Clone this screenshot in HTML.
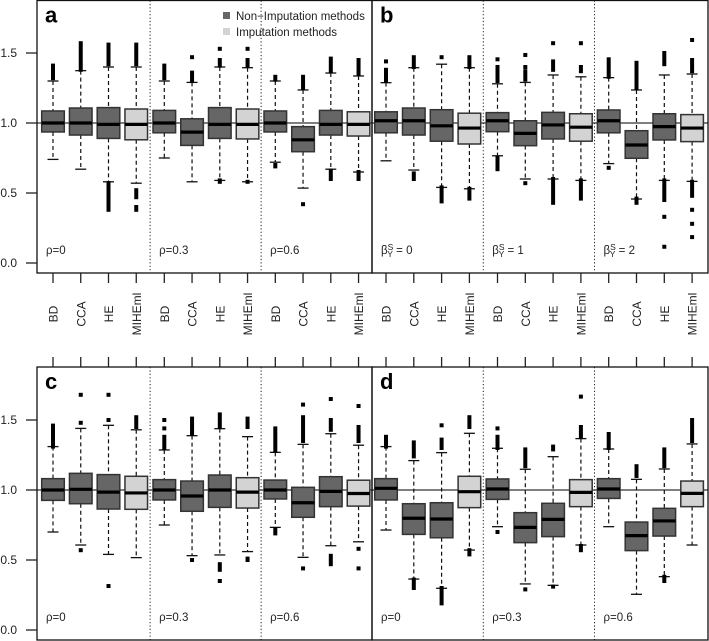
<!DOCTYPE html>
<html><head><meta charset="utf-8"><style>
html,body{margin:0;padding:0;background:#fff;}
svg{display:block;font-family:"Liberation Sans",Arial,sans-serif;}
</style></head><body>
<svg id="chart" width="709" height="641" viewBox="0 0 709 641" xmlns="http://www.w3.org/2000/svg"></svg>
<script>
// Method categories per group
const methods = ["BD","CCA","HE","MIHEml"];
const imputed = [false,false,false,true];
const groupLabelsAC = ["ρ=0","ρ=0.3","ρ=0.6"];
const yTicks = [0.0,0.5,1.0,1.5];
const yTickLabels = ["0.0","0.5","1.0","1.5"];
// each box: [lowWhisker, q1, median, q3, highWhisker]
const panelA = [
 [0.74,0.936,1.0,1.086,1.30],[0.67,0.914,1.0,1.107,1.374],[0.58,0.89,0.99,1.11,1.40],[0.57,0.88,0.99,1.10,1.40],
 [0.75,0.93,1.0,1.09,1.30],[0.58,0.84,0.935,1.03,1.29],[0.59,0.89,0.99,1.11,1.40],[0.58,0.886,0.99,1.10,1.395],
 [0.72,0.936,1.0,1.086,1.30],[0.535,0.795,0.88,0.974,1.236],[0.67,0.914,0.99,1.09,1.357],[0.65,0.907,0.99,1.08,1.336]];
const panelB = [
 [0.73,0.93,1.016,1.08,1.288],[0.664,0.914,1.016,1.107,1.395],[0.54,0.87,0.98,1.095,1.42],[0.53,0.85,0.964,1.07,1.395],
 [0.766,0.938,1.016,1.074,1.28],[0.60,0.838,0.926,1.016,1.29],[0.60,0.886,0.986,1.076,1.343],[0.59,0.87,0.97,1.066,1.33],
 [0.71,0.93,1.016,1.093,1.324],[0.457,0.748,0.843,0.945,1.236],[0.59,0.879,0.974,1.066,1.343],[0.583,0.867,0.964,1.06,1.35]];
const panelC = [
 [0.70,0.926,1.0,1.081,1.31],[0.607,0.902,1.005,1.119,1.44],[0.54,0.864,0.985,1.11,1.462],[0.517,0.862,0.979,1.098,1.43],
 [0.75,0.929,1.0,1.074,1.286],[0.531,0.848,0.957,1.064,1.388],[0.536,0.876,1.0,1.107,1.438],[0.56,0.871,0.985,1.088,1.381],
 [0.733,0.936,1.0,1.071,1.269],[0.519,0.805,0.909,1.019,1.326],[0.602,0.881,0.99,1.095,1.402],[0.63,0.885,0.975,1.07,1.32]];
const panelD = [
 [0.714,0.929,1.012,1.081,1.31],[0.364,0.683,0.798,0.902,1.21],[0.298,0.659,0.793,0.909,1.267],[0.571,0.874,0.988,1.098,1.405],
 [0.738,0.933,1.007,1.079,1.298],[0.329,0.624,0.733,0.838,1.148],[0.319,0.667,0.79,0.905,1.238],[0.607,0.881,0.983,1.074,1.367],
 [0.738,0.94,1.007,1.081,1.293],[0.255,0.567,0.674,0.771,1.076],[0.381,0.671,0.779,0.869,1.15],[0.607,0.881,0.976,1.064,1.329]];
// outlier runs per box: list of [from,to] (equal = single point)
const outA = [
 [[1.32,1.41]],[[1.38,1.57]],[[1.42,1.56],[0.38,0.57]],[[1.42,1.56],[0.47,0.52],[0.38,0.40]],
 [[1.32,1.41]],[[1.30,1.36],[1.47,1.47]],[[1.41,1.45],[1.53,1.53],[0.58,0.59]],[[1.41,1.45],[1.53,1.53],[0.58,0.58]],
 [[1.31,1.33],[0.69,0.70]],[[1.25,1.33],[0.42,0.42]],[[1.37,1.46],[0.60,0.66]],[[1.35,1.45],[0.60,0.65]]];
const outB = [
 [[1.30,1.38],[1.44,1.44]],[[1.40,1.47],[0.60,0.64]],[[1.47,1.47],[0.44,0.54]],[[1.40,1.47],[0.46,0.53]],
 [[1.30,1.40],[1.455,1.455],[0.67,0.75]],[[1.31,1.37],[1.40,1.40],[1.486,1.486],[0.57,0.57]],[[1.38,1.44],[1.57,1.57],[0.43,0.60]],[[1.37,1.40],[1.57,1.57],[0.46,0.59]],
 [[1.33,1.455],[0.68,0.68]],[[1.25,1.43],[0.43,0.46]],[[1.42,1.50],[0.45,0.59],[0.33,0.33],[0.116,0.116]],[[1.37,1.45],[1.593,1.593],[0.48,0.58],[0.38,0.38],[0.28,0.28],[0.185,0.185]]];
const outC = [
 [[1.31,1.46]],[[1.48,1.48],[1.68,1.68],[0.57,0.57]],[[1.50,1.50],[1.68,1.68],[0.314,0.314]],[[1.45,1.52]],
 [[1.30,1.38],[1.44,1.44],[1.50,1.50]],[[1.40,1.51],[0.50,0.50]],[[1.45,1.54],[0.43,0.47],[0.35,0.35]],[[1.45,1.51],[0.50,0.51]],
 [[1.28,1.44],[0.69,0.72]],[[1.35,1.52],[1.61,1.61],[0.44,0.44]],[[1.43,1.50],[1.65,1.65],[0.47,0.53]],[[1.35,1.45],[1.60,1.60],[0.58,0.58],[0.44,0.44]]];
const outD = [
 [[1.31,1.38]],[[1.24,1.34],[0.30,0.36]],[[1.30,1.36],[1.462,1.462],[0.19,0.30]],[[1.45,1.52],[0.54,0.57]],
 [[1.30,1.38],[1.44,1.44],[0.70,0.70]],[[1.17,1.29],[0.29,0.29]],[[1.29,1.31],[0.31,0.31]],[[1.38,1.45],[1.667,1.667],[0.57,0.60]],
 [[1.30,1.40]],[[1.10,1.17]],[[1.17,1.29],[0.35,0.38]],[[1.35,1.50]]];

const NS="http://www.w3.org/2000/svg";
const svg=document.getElementById('chart');
function mk(tag,attrs,parent){const e=document.createElementNS(NS,tag);for(const k in attrs)e.setAttribute(k,attrs[k]);(parent||svg).appendChild(e);return e;}

function drawPanel(p){
  const yS=v=>p.y0 - v*140;
  const xS=i=>p.bx0 + i*p.step + (i>=4?0.3:0) ;
  const g=mk('g',{});
  
  
  // group separators
  [3.5,7.5].forEach(s=>{
    const x=p.bx0+s*p.step;
    const l=mk('line',{x1:x,x2:x,y1:p.top,y2:p.bot,stroke:'#222','stroke-width':1,'stroke-dasharray':'1.2,2.2'},g);
    
    
  });
  // reference line at 1.0
  const rl=mk('line',{x1:p.left,x2:p.right,y1:yS(1),y2:yS(1),stroke:'#333','stroke-width':1.3},g);
  
  
  const bw=22.6;
  p.data.forEach((d,i)=>{
    const x=xS(i);
    const bg=mk('g',{},g);
    
    
    const dash={stroke:'#111','stroke-width':1.2,'stroke-dasharray':'4,3'};
    mk('line',Object.assign({x1:x,x2:x,y1:yS(d[4]),y2:yS(d[3])},dash),bg);
    mk('line',Object.assign({x1:x,x2:x,y1:yS(d[1]),y2:yS(d[0])},dash),bg);
    mk('line',{x1:x-5.5,x2:x+5.5,y1:yS(d[4]),y2:yS(d[4]),stroke:'#111','stroke-width':1.3},bg);
    mk('line',{x1:x-5.5,x2:x+5.5,y1:yS(d[0]),y2:yS(d[0]),stroke:'#111','stroke-width':1.3},bg);
    mk('rect',{x:x-bw/2,y:yS(d[3]),width:bw,height:yS(d[1])-yS(d[3]),fill:imputed[i%4]?'#d3d3d3':'#666',stroke:'#333','stroke-width':1.5},bg);
    mk('line',{x1:x-bw/2,x2:x+bw/2,y1:yS(d[2]),y2:yS(d[2]),stroke:'#000','stroke-width':3.2},bg);
    p.outs[i].forEach(o=>{
      const ya=yS(Math.max(o[0],o[1])), yb=yS(Math.min(o[0],o[1]));
      mk('rect',{x:x-2,y:ya-2,width:4,height:(yb-ya)+4,fill:'#000'},bg);
    });
  });
  // frame
  const fr=mk('rect',{x:p.left,y:p.top,width:p.right-p.left,height:p.bot-p.top,fill:'none',stroke:'#111','stroke-width':1.3},g);
  
  
  const lt=mk('text',{x:p.left+8,y:p.top+22,'font-size':22,'font-weight':'bold',fill:'#000'},g);
  lt.textContent=p.letter;
  
  
  // group labels
  p.glabels.forEach((gl,k)=>{
    const x=(k===0?p.left:p.bx0+(k*4-0.5)*p.step)+9;
    const t=mk('text',{x:x,y:p.bot-19,'font-size':11.5,fill:'#222'},g);
    if(p.beta){ t.innerHTML='β<tspan dy="-4" font-size="8.5">S</tspan><tspan dx="-6" dy="7" font-size="8.5">Y</tspan><tspan dy="-3"> = '+gl+'</tspan>'; }
    else t.textContent=gl;
    
    
  });
  // x ticks
  for(let i=0;i<12;i++){
    const x=xS(i);
    const tk=p.tickUp? mk('line',{x1:x,x2:x,y1:p.top-10,y2:p.top,stroke:'#222','stroke-width':1.3},g)
                     : mk('line',{x1:x,x2:x,y1:p.bot,y2:p.bot+10,stroke:'#222','stroke-width':1.3},g);
    
    
  }
  return {xS,yS};
}

const pa=drawPanel({name:'panel-a',letter:'a',left:37,right:372,top:0.5,bot:273,y0:263,bx0:53,step:27.75,data:panelA,outs:outA,glabels:groupLabelsAC});
drawPanel({name:'panel-b',letter:'b',left:372,right:708,top:0.5,bot:273,y0:263,bx0:386,step:27.8,data:panelB,outs:outB,glabels:['0','1','2'],beta:true});
drawPanel({name:'panel-c',letter:'c',left:37,right:372,top:367,bot:640,y0:630,bx0:53,step:27.75,data:panelC,outs:outC,glabels:groupLabelsAC,tickUp:true});
drawPanel({name:'panel-d',letter:'d',left:372,right:708,top:367,bot:640,y0:630,bx0:386,step:27.8,data:panelD,outs:outD,glabels:groupLabelsAC,tickUp:true});

// y axes
[[263,'y-axis-top'],[630,'y-axis-bottom']].forEach(([y0,nm])=>{
  yTicks.forEach((v,k)=>{
    const y=y0-v*140;
    const l=mk('line',{x1:26,x2:37,y1:y,y2:y,stroke:'#222','stroke-width':1.3});
    
    
    const t=mk('text',{x:17,y:y+4,'font-size':12,'text-anchor':'end',fill:'#222'});
    t.textContent=yTickLabels[k];
    
    
  });
});
// x labels (shared between rows)
for(let i=0;i<24;i++){
  const x=(i<12? 53+i*27.75 : 386+(i-12)*27.8) + ((i%12)>=4?0.3:0);
  const t=mk('text',{x:0,y:0,'font-size':12,'text-anchor':'middle',fill:'#222',transform:'translate('+(x+4.5)+',314) rotate(-90)'});
  t.textContent=methods[i%4];
  
  
}
// legend
const lg=mk('g',{});


[['Non−Imputation methods','#666',16],['Imputation methods','#d3d3d3',32]].forEach(([txt,c,y])=>{
  mk('rect',{x:223,y:y-4,width:7,height:7,fill:c},lg);
  const t=mk('text',{x:236,y:y+4,'font-size':11.5,fill:'#222'},lg);
  t.textContent=txt;
  
  
});
</script>
</body></html>
